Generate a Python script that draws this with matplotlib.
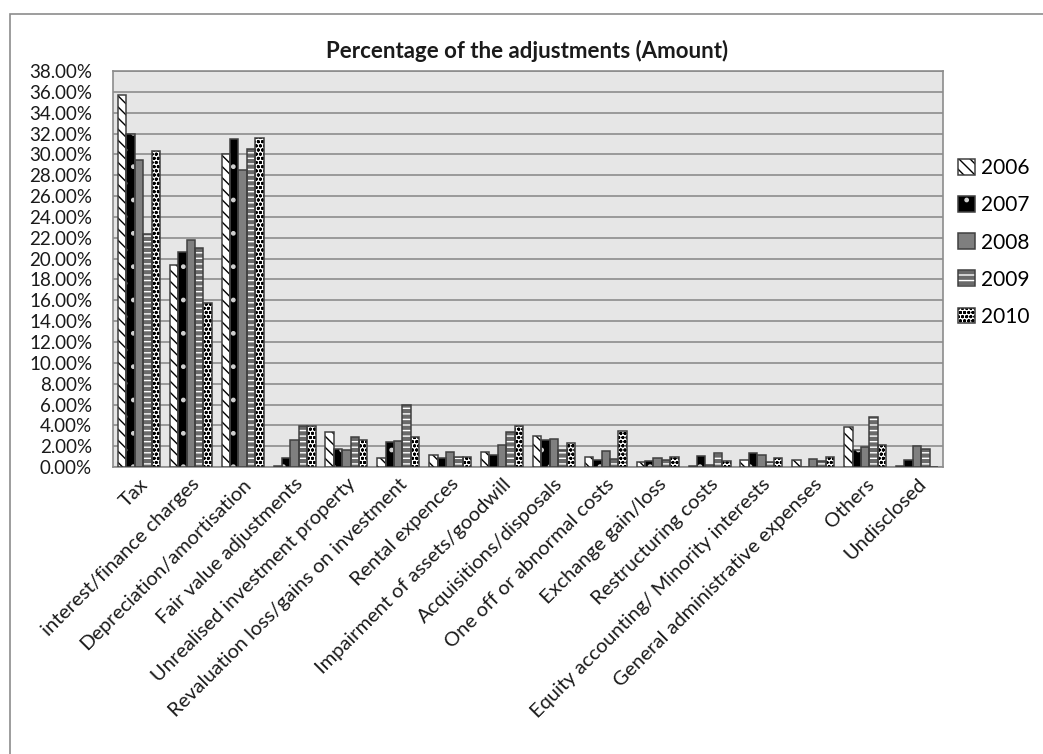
import matplotlib
matplotlib.use("Agg")
import matplotlib.pyplot as plt
import numpy as np
from matplotlib.patches import Patch, Rectangle
from matplotlib.legend_handler import HandlerTuple
from matplotlib.ticker import FuncFormatter, MultipleLocator

plt.rcParams['font.family'] = ['Lato', 'DejaVu Sans']
plt.rcParams['hatch.linewidth'] = 1.0

categories = [
    "Tax", "interest/finance charges", "Depreciation/amortisation",
    "Fair value adjustments", "Unrealised investment property",
    "Revaluation loss/gains on investment", "Rental expences",
    "Impairment of assets/goodwill", "Acquisitions/disposals",
    "One off or abnormal costs", "Exchange gain/loss", "Restructuring costs",
    "Equity accounting/ Minority interests", "General administrative expenses",
    "Others", "Undisclosed",
]
years = ["2006", "2007", "2008", "2009", "2010"]

v2006 = [35.7, 19.4, 30.0, 0.1, 3.35, 0.9, 1.2, 1.45, 2.97, 1.0, 0.45, 0.1, 0.7, 0.68, 3.84, 0.1]
v2007 = [32.0, 20.6, 31.5, 0.87, 1.77, 2.4, 0.84, 1.2, 2.58, 0.7, 0.55, 1.1, 1.3, 0.0, 1.6, 0.68]
v2008 = [29.5, 21.8, 28.5, 2.58, 1.6, 2.5, 1.45, 2.1, 2.68, 1.58, 0.9, 0.2, 1.2, 0.8, 1.94, 1.97]
v2009 = [22.4, 21.0, 30.5, 3.9, 2.87, 6.0, 0.97, 3.35, 1.6, 0.8, 0.7, 1.3, 0.45, 0.55, 4.84, 1.77]
v2010 = [30.3, 15.7, 31.6, 3.9, 2.58, 2.9, 0.97, 3.9, 2.3, 3.45, 1.0, 0.58, 0.9, 1.0, 2.1, 0.05]
series = [v2006, v2007, v2008, v2009, v2010]

# (face colour, hatch, hatch colour) per year
styles = [
    ("white", "\\\\\\", "black"),
    ("black", ".", "#d0d0d0"),
    ("#7f7f7f", None, "#7f7f7f"),
    ("#6a6a6a", "---", "white"),
    ("white", "oooo", "black"),
]
edge = "#404040"

fig = plt.figure(figsize=(10.43, 7.54), dpi=100)
ax = fig.add_axes([0.1083, 0.3806, 0.7958, 0.5252])
ax.set_facecolor("#e6e6e6")

x = np.arange(len(categories))
n = len(series)
group = 0.81
w = group / n

handles = []
for i, (vals, (fc, hatch, hc)) in enumerate(zip(series, styles)):
    pos = x - group / 2 + w * (i + 0.5)
    ax.bar(pos, vals, width=w, color=fc, hatch=hatch, edgecolor=hc,
           linewidth=0, zorder=3)
    ax.bar(pos, vals, width=w, fill=False, edgecolor=edge,
           linewidth=1.1, zorder=4)
    handles.append((Patch(facecolor=fc, hatch=hatch, edgecolor=hc, linewidth=0),
                    Patch(fill=False, edgecolor=edge, linewidth=1.1)))

ax.set_xlim(-0.5, len(categories) - 0.5)
ax.set_ylim(0, 38)
ax.yaxis.set_major_locator(MultipleLocator(2))
ax.yaxis.set_major_formatter(FuncFormatter(lambda v, p: f"{v:.2f}%"))
ax.grid(axis="y", color="#8c8c8c", linewidth=1.2, zorder=1)
ax.set_axisbelow(True)
for s in ax.spines.values():
    s.set_color("#8c8c8c")
    s.set_linewidth(1.2)

ax.tick_params(axis="y", length=0, pad=15, labelsize=13.5, labelcolor="#1a1a1a")
ax.tick_params(axis="x", length=0, pad=6)
ax.set_xticks(x)
ax.set_xticklabels(categories, rotation=45, ha="right", rotation_mode="anchor",
                   fontsize=14.5, color="#1a1a1a")

fig.text(0.505, 0.933, "Percentage of the adjustments (Amount)", ha="center",
         va="center", fontsize=16, fontweight="bold", color="#1a1a1a")

leg = ax.legend(handles, years, handler_map={tuple: HandlerTuple(ndivide=1)},
                loc="upper left", bbox_to_anchor=(0.9105, 0.801),
                bbox_transform=fig.transFigure, frameon=False, fontsize=15,
                handlelength=0.8, handleheight=0.8, handletextpad=0.3,
                labelspacing=0.82, borderaxespad=0)

# chart frame around the figure contents
fig.patches.append(Rectangle((10 / 1043, -0.05), 1.1, 0.05 + (754 - 14) / 754,
                             transform=fig.transFigure, fill=False,
                             edgecolor="#8c8c8c", linewidth=1.2))

fig.savefig("out.png", dpi=100, facecolor="white")
